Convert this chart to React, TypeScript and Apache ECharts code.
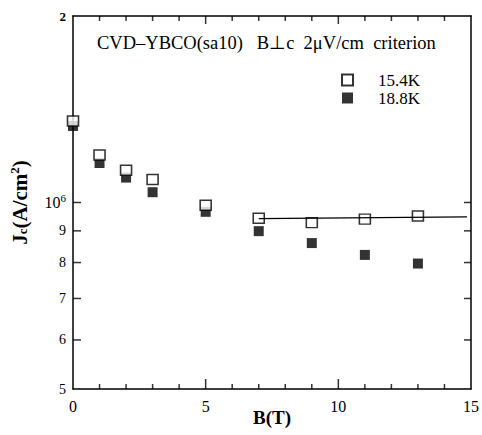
import React, { useEffect, useRef } from "react";
import * as echarts from "echarts";

const fieldB = [0, 1, 2, 3, 5, 7, 9, 11, 13];
const jc154K = [1.354e6, 1.193e6, 1.127e6, 1.089e6, 0.99e6, 0.943e6, 0.928e6, 0.94e6, 0.951e6];
const jc188K = [1.329e6, 1.158e6, 1.097e6, 1.039e6, 0.966e6, 0.899e6, 0.86e6, 0.823e6, 0.797e6];
const fitB = [7, 14.85];
const fitJc = [0.942e6, 0.948e6];
const xMajorTicks = [5, 10];
const xMinorTicks = [1, 2, 3, 4, 6, 7, 8, 9, 11, 12, 13, 14];
const xLabelValues = [0, 5, 10, 15];
const yTickValues = [6e5, 7e5, 8e5, 9e5, 1e6];
const yLabelValues = [5e5, 6e5, 7e5, 8e5, 9e5, 1e6, 2e6];
const yLabelTexts = ["5", "6", "7", "8", "9", "{b|10}{s|6}", "{t|2}"];
const seriesNames = ["15.4K", "18.8K"];
const titleText = "CVD\u2013YBCO(sa10)   B\u22a5c  2\u03bcV/cm  criterion";

const FONT = "Liberation Serif";
const L = (v: number) => Math.log10(v);

export default function App() {
  const ref = useRef<HTMLDivElement>(null);
  useEffect(() => {
    document.body.style.margin = "0";
    const chart = echarts.init(ref.current!, null, { renderer: "svg" });
    const yMin = L(5e5);
    const yMax = L(2e6);
    const xMin = 0;
    const xMax = 15;
    const labelMap = new Map<string, string>();
    yLabelValues.forEach((v, i) => labelMap.set(L(v).toFixed(4), yLabelTexts[i]));
    const axisLine = { show: true, onZero: false, lineStyle: { color: "#000", width: 1.5 } };

    const tickSeries = (name: string, data: number[][], w: number, h: number, dx: number, dy: number) => ({
      name,
      type: "scatter",
      symbol: "rect",
      symbolSize: [w, h],
      symbolOffset: [dx, dy],
      itemStyle: { color: "#000" },
      clip: false,
      silent: true,
      data,
      z: 6,
    });

    chart.setOption({
      animation: false,
      textStyle: { fontFamily: FONT, color: "#000" },
      grid: { left: 73, right: 11, top: 16, bottom: 46, outerBoundsMode: "none", containLabel: false },
      xAxis: [
        {
          type: "value",
          min: xMin,
          max: xMax,
          interval: 5,
          position: "bottom",
          axisLine,
          splitLine: { show: false },
          axisTick: { show: false },
          name: "B(T)",
          nameLocation: "middle",
          nameGap: 19,
          nameMoveOverlap: false,
          nameTextStyle: { fontFamily: FONT, fontSize: 19, fontWeight: "bold", color: "#000" },
          axisLabel: { show: true, margin: 9, customValues: xLabelValues, fontFamily: FONT, fontSize: 16, color: "#000" },
        },
        {
          type: "value",
          min: xMin,
          max: xMax,
          interval: 5,
          position: "top",
          axisLine,
          splitLine: { show: false },
          axisTick: { show: false },
          axisLabel: { show: false },
        },
      ],
      yAxis: [
        {
          type: "value",
          min: yMin,
          max: yMax,
          position: "left",
          axisLine,
          splitLine: { show: false },
          axisTick: { show: false },
          name: "{j|J}{c|c}{j|(A/cm}{s|2}{j|)}",
          nameLocation: "middle",
          nameRotate: 90,
          nameGap: 42,
          nameMoveOverlap: false,
          nameTextStyle: {
            rich: {
              j: { fontFamily: FONT, fontSize: 21, fontWeight: "bold", color: "#000" },
              c: { fontFamily: FONT, fontSize: 13, fontWeight: "bold", color: "#000", padding: [6, 0, 0, 0] },
              s: { fontFamily: FONT, fontSize: 13, fontWeight: "bold", color: "#000", padding: [0, 0, 10, 0] },
            },
          },
          axisLabel: {
            show: true,
            margin: 7,
            customValues: yLabelValues.map(L),
            fontFamily: FONT,
            fontSize: 14,
            color: "#000",
            formatter: (v: number) => labelMap.get(v.toFixed(4)) ?? "",
            rich: {
              b: { fontFamily: FONT, fontSize: 16, color: "#000" },
              s: { fontFamily: FONT, fontSize: 11, color: "#000", padding: [0, 0, 9, 0] },
              t: { fontFamily: FONT, fontSize: 13, fontWeight: "bold", color: "#000" },
            },
          },
        },
        {
          type: "value",
          min: yMin,
          max: yMax,
          position: "right",
          axisLine,
          splitLine: { show: false },
          axisTick: { show: false },
          axisLabel: { show: false },
        },
      ],
      legend: {
        orient: "vertical",
        left: 336,
        top: 66,
        itemWidth: 11,
        itemHeight: 11,
        itemGap: 0,
        textStyle: { fontFamily: FONT, fontSize: 17, color: "#000", lineHeight: 18, padding: [0, 0, 0, 20] },
        data: [
          { name: seriesNames[0], icon: "rect" },
          { name: seriesNames[1], icon: "rect" },
        ],
      },
      graphic: [
        { type: "text", left: 97, top: 33, style: { text: titleText, fontFamily: FONT, fontSize: 18.5, fill: "#000" } },
      ],
      series: [
        tickSeries("tickXMajorBottom", xMajorTicks.map((x) => [x, yMin]), 1.5, 10, 0, -5),
        tickSeries("tickXMajorTop", xMajorTicks.map((x) => [x, yMax]), 1.5, 8, 0, 4),
        tickSeries("tickXMinorBottom", xMinorTicks.map((x) => [x, yMin]), 1.5, 5, 0, -2.5),
        tickSeries("tickXMinorTop", xMinorTicks.map((x) => [x, yMax]), 1.5, 5, 0, 2.5),
        tickSeries("tickYLeft", yTickValues.map((v) => [xMin, L(v)]), 8, 1.5, 4, 0),
        tickSeries("tickYRight", yTickValues.map((v) => [xMax, L(v)]), 7, 1.5, -3.5, 0),
        {
          name: seriesNames[0],
          type: "scatter",
          symbol: "rect",
          symbolSize: [11, 10],
          itemStyle: { color: "#fff", borderColor: "#000", borderWidth: 1.5 },
          data: fieldB.map((b, i) => [b, L(jc154K[i])]),
          z: 3,
        },
        {
          name: seriesNames[1],
          type: "scatter",
          symbol: "rect",
          symbolSize: [10, 10],
          itemStyle: { color: "#000" },
          data: fieldB.map((b, i) => [b, L(jc188K[i])]),
          z: 2,
        },
        {
          name: "fit",
          type: "line",
          symbol: "none",
          lineStyle: { color: "#000", width: 1.3 },
          data: fitB.map((b, i) => [b, L(fitJc[i])]),
          z: 4,
        },
      ],
    });
    return () => chart.dispose();
  }, []);
  return <div ref={ref} style={{ width: 482, height: 435 }} />;
}
